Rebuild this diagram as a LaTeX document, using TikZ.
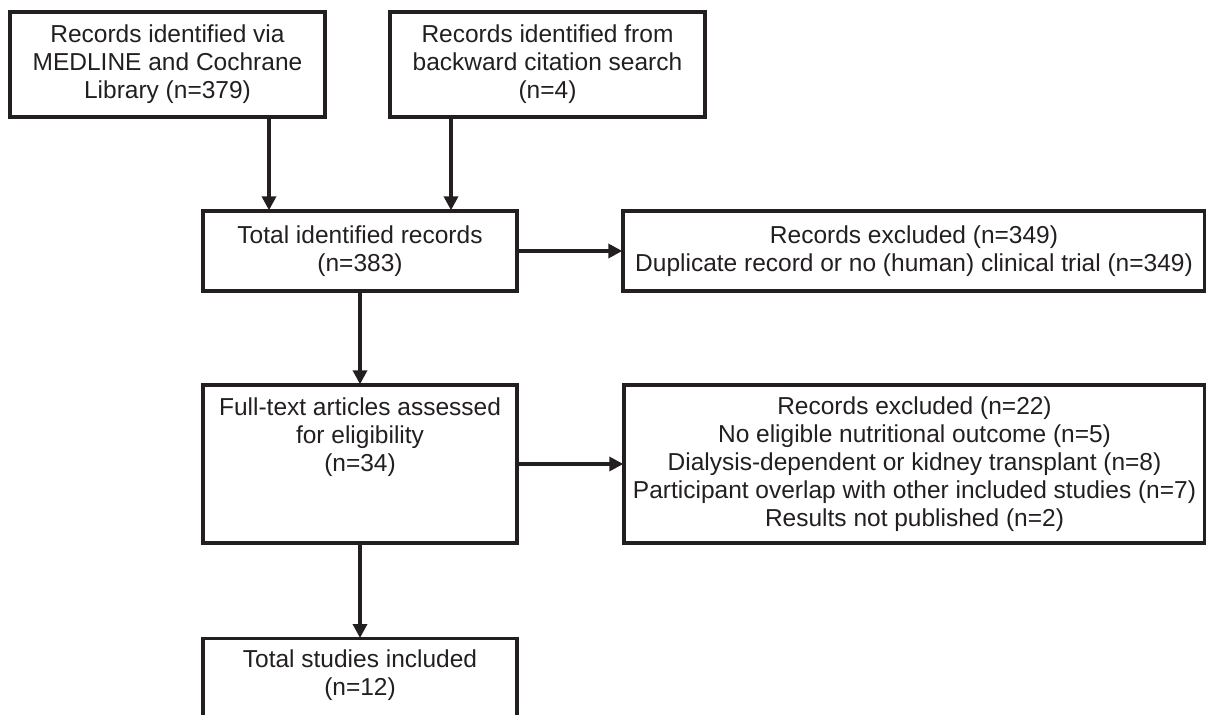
\documentclass[tikz,border=0pt]{standalone}
\usepackage{fontspec}
\setmainfont{Liberation Sans}
\usetikzlibrary{arrows.meta}
\definecolor{ink}{HTML}{231F20}
\begin{document}
\begin{tikzpicture}[x=1pt,y=-1pt,
  box/.style={draw=ink, line width=3.4pt, inner sep=0pt, align=center, text=ink,
    font=\fontsize{24.5}{28}\selectfont},
  txt/.style={inner sep=0pt, align=center, text=ink, font=\fontsize{24.5}{28}\selectfont},
  arr/.style={draw=ink, line width=3.4pt, -{Triangle[length=14pt,width=14pt]}, shorten >=-1pt},
]
\useasboundingbox (0,0) rectangle (1206,714);
\clip (0,0) rectangle (1206,714);
\node[box, minimum width=315, minimum height=105] (A) at (167.5,64.5)
  {Records identified via\\MEDLINE and Cochrane\\Library (n=379)};
\node[box, minimum width=315, minimum height=105] (B) at (547.5,64.5)
  {Records identified from\\backward citation search\\(n=4)};
\node[box, minimum width=314, minimum height=80] (C) at (360,251)
  {Total identified records\\(n=383)};
\node[box, minimum width=582, minimum height=80] (D) at (914,251)
  {Records excluded (n=349)\\Duplicate record or no (human) clinical trial (n=349)};
\node[box, minimum width=314, minimum height=158] (E) at (360,464) {};
\node[txt] (Et) at (360,437) {Full-text articles assessed\\for eligibility\\(n=34)};
\node[box, minimum width=581, minimum height=158] (F) at (914.5,464)
  {Records excluded (n=22)\\No eligible nutritional outcome (n=5)\\Dialysis-dependent or kidney transplant (n=8)\\Participant overlap with other included studies (n=7)\\Results not published (n=2)};
\node[box, minimum width=314, minimum height=110, anchor=north] (G) at (360,637) {};
\node[txt] (Gt) at (360,675) {Total studies included\\(n=12)};
\coordinate (xa) at (269,0);
\coordinate (xb) at (451,0);
\draw[arr] (A.south -| xa) -- (C.north -| xa);
\draw[arr] (B.south -| xb) -- (C.north -| xb);
\draw[arr] (C.east) -- (D.west);
\draw[arr] (C.south) -- (E.north);
\draw[arr] (E.east) -- (F.west);
\draw[arr] (E.south) -- (G.north);
\end{tikzpicture}
\end{document}
